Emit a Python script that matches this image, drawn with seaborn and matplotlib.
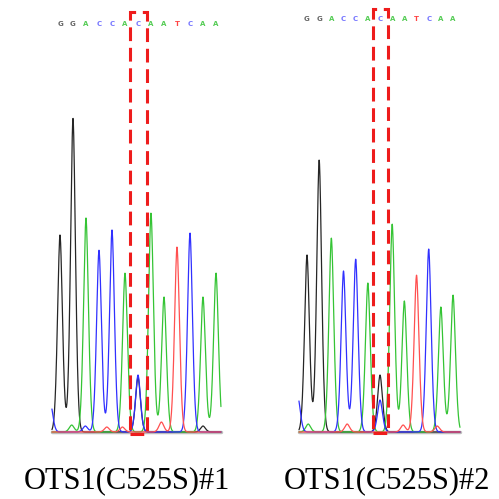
import numpy as np
import pandas as pd
import matplotlib
matplotlib.use('Agg')
import matplotlib.pyplot as plt
import seaborn as sns
from matplotlib.patches import Rectangle

# ---- data ----
bases = list("GGACCACAATCAA")
labels = ["OTS1(C525S)#1", "OTS1(C525S)#2"]

# main peak height for each called base
left_main = [197, 314, 214, 182, 202, 159, 57, 219, 135, 185, 199, 135, 159]
right_main = [177, 267, 194, 161, 173, 149, 32, 208, 131, 157, 183, 125, 137]

# extra peaks: (position, base, height)
left_extra = [(6.0, 'G', 55), (-0.75, 'C', 30), (0.9, 'A', 7), (1.95, 'C', 6),
              (3.6, 'T', 5), (4.8, 'T', 5), (7.8, 'T', 10), (11.0, 'G', 6)]
right_extra = [(6.0, 'G', 57), (-0.75, 'C', 35), (0.1, 'A', 8), (3.3, 'T', 8),
               (7.9, 'T', 7), (10.7, 'T', 6), (1.0, 'G', 5)]

trace_colors = {'G': '#262626', 'A': '#35c435', 'C': '#3030ff', 'T': '#ff5050'}
letter_colors = {'G': '#666666', 'A': '#55cc55', 'C': '#7777ff', 'T': '#ff4444'}

W = H = 499
fig = plt.figure(figsize=(4.99, 4.99), dpi=100)
sns.set_style('white')


def panel(x0_px, x1_px, base0, step, main, extra, trace_rng, letter_y, box, label, label_x):
    ax = fig.add_axes([x0_px / W, 1 - 440 / H, (x1_px - x0_px) / W, 440 / H])
    ax.set_xlim((x0_px - base0) / step, (x1_px - base0) / step)
    ax.set_ylim(-8, 432)
    ax.axis('off')

    sigma = 2.4 / step
    xs = np.linspace(trace_rng[0], trace_rng[1], 800)
    peaks = [(i, b, h) for i, (b, h) in enumerate(zip(bases, main))] + extra
    rows = []
    for ch in ['G', 'A', 'C', 'T']:
        sig = np.zeros_like(xs)
        for p, b, h in peaks:
            if b == ch:
                sig += h * np.exp(-0.5 * (np.abs(xs - p) / sigma) ** 1.8)
        rows.append(pd.DataFrame({'pos': xs, 'signal': sig, 'ch': ch}))
    df = pd.concat(rows)

    ax.plot(trace_rng, [0, 0], color='#bdbdbd', lw=2.5, zorder=0)
    sns.lineplot(data=df, x='pos', y='signal', hue='ch', palette=trace_colors,
                 estimator=None, sort=False, legend=False, lw=0.9, ax=ax)

    for i, b in enumerate(bases):
        ax.text(i, letter_y, b, color=letter_colors[b], fontsize=5, ha='center',
                va='center', fontweight='bold')

    ax.add_patch(Rectangle((box[0], box[2]), box[1] - box[0], box[3] - box[2],
                           fill=False, edgecolor='#ee1c1c', lw=2.2,
                           linestyle=(0, (4.5, 2.2)), zorder=5, clip_on=False))
    fig.text(label_x / W, 1 - 481 / H, label, color='black',
             ha='center', va='center', fontsize=22, family='Liberation Serif')


panel(30, 240, 60, 13.0, left_main, left_extra, (-0.62, 12.38), 408,
      (5.38, 6.69, -2, 420), labels[0], 126.5)
panel(285, 470, 307, 12.17, right_main, right_extra, (-0.66, 12.57), 413,
      (5.42, 6.66, -1, 423), labels[1], 386.5)

fig.savefig('out.png', dpi=100)
